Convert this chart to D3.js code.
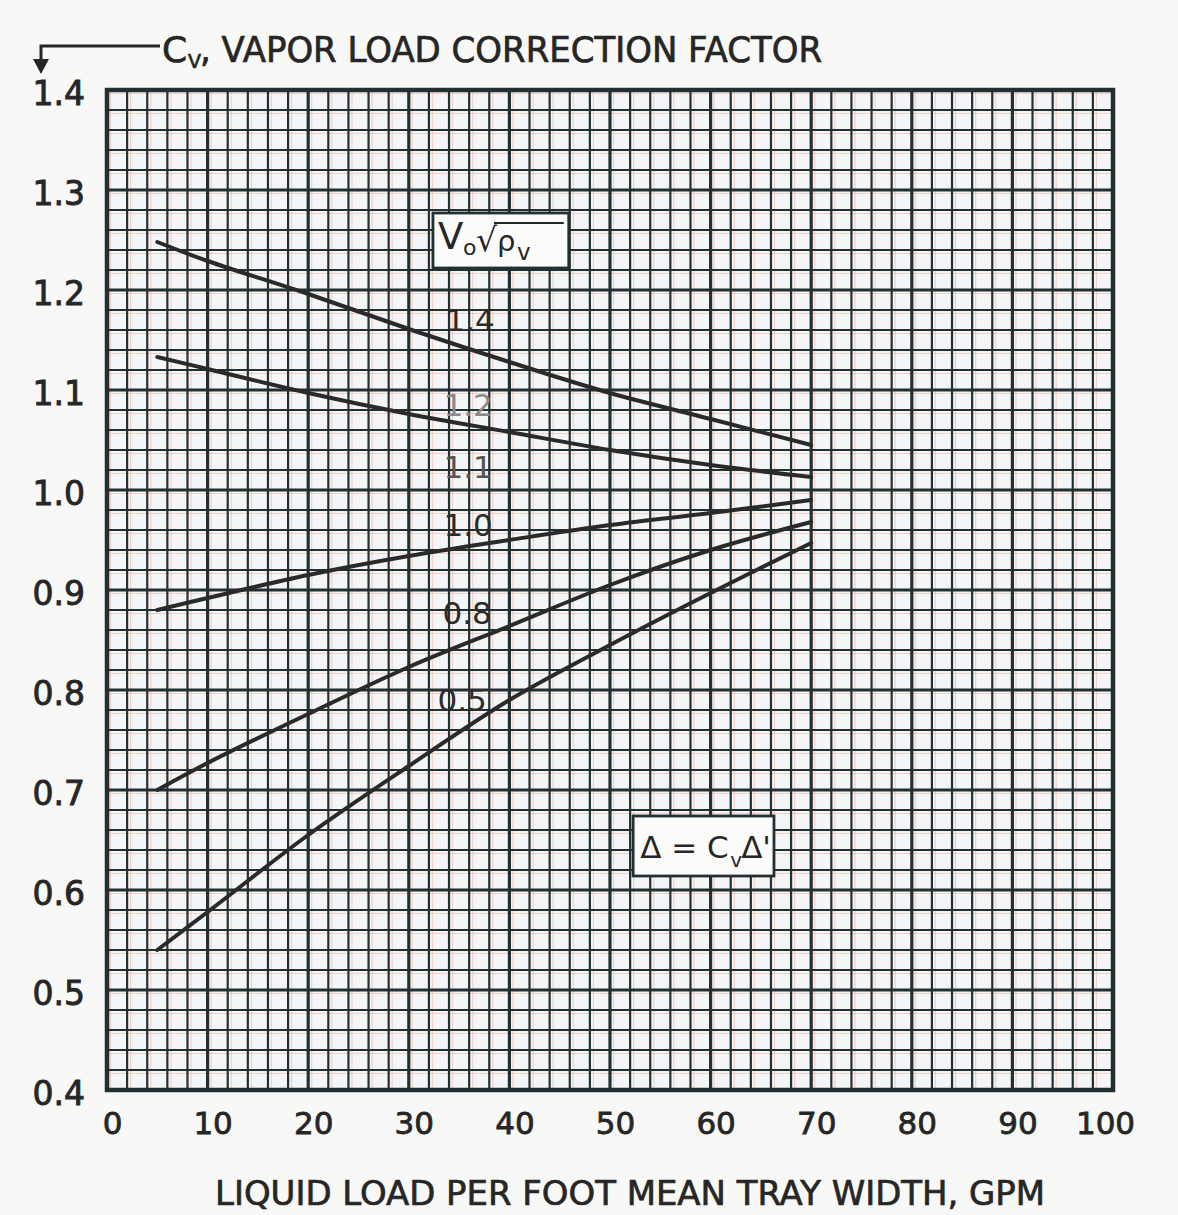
<!DOCTYPE html>
<html><head><meta charset="utf-8">
<script src="https://cdn.jsdelivr.net/npm/d3@7"></script>
<style>html,body{margin:0;padding:0;background:#f8f8f6;} svg{display:block;}</style>
</head><body>
<svg id="chart" width="1178" height="1215"></svg>
<script>
// ---- data ----
const gpm = [5, 10, 20, 30, 40, 50, 60, 70];
const cvSeries14 = [1.248, 1.229, 1.196, 1.161, 1.128, 1.097, 1.071, 1.045];
const cvSeries12 = [1.133, 1.121, 1.097, 1.076, 1.058, 1.040, 1.025, 1.013];
const cvSeries10 = [0.880, 0.892, 0.915, 0.934, 0.950, 0.965, 0.977, 0.990];
const cvSeries08 = [0.700, 0.727, 0.776, 0.823, 0.864, 0.905, 0.940, 0.968];
const cvSeries05 = [0.540, 0.578, 0.655, 0.724, 0.790, 0.845, 0.897, 0.947];
const xTickValues = [0, 10, 20, 30, 40, 50, 60, 70, 80, 90, 100];
const yTickValues = [0.4, 0.5, 0.6, 0.7, 0.8, 0.9, 1.0, 1.1, 1.2, 1.3, 1.4];
const curveLabelText = ["1.4", "1.2", "1.1", "1.0", "0.8", "0.5"];
const curveLabelX = [36.1, 35.9, 35.9, 35.9, 35.8, 35.3];
const curveLabelY = [1.170, 1.085, 1.023, 0.965, 0.877, 0.790];
const titleText = ", VAPOR LOAD CORRECTION FACTOR";
const xTitleText = "LIQUID LOAD PER FOOT MEAN TRAY WIDTH, GPM";

// ---- layout ----
const W = 1178, H = 1215;
const m = {left: 107, top: 90, right: 65, bottom: 125};
const svg = d3.select("#chart");
const x = d3.scaleLinear().domain([0, 100]).range([m.left, W - m.right]);
const y = d3.scaleLinear().domain([0.4, 1.4]).range([H - m.bottom, m.top]);
const ink = "#223033";
const txt = "#262626";
const font = "'DejaVu Sans', 'Liberation Sans', sans-serif";

svg.append("rect").attr("width", W).attr("height", H).attr("fill", "#f8f8f6");
svg.append("rect").attr("x", x(0)).attr("y", y(1.4)).attr("width", x(100) - x(0)).attr("height", y(0.4) - y(1.4)).attr("fill", "#f3f5f7");

// grid
const xGrid = d3.range(0, 100.001, 2);
const yGrid = d3.range(0, 51).map(i => +(0.4 + i * 0.02).toFixed(2));
const isMajX = v => Math.abs(v % 10) < 1e-6;
const isMajY = v => Math.round(v * 100) % 10 === 0;
const g = svg.append("g");
g.selectAll(".pv").data(xGrid.filter(v => v < 100)).join("line")
  .attr("x1", d => x(d) + 3.5).attr("x2", d => x(d) + 3.5).attr("y1", y(1.4)).attr("y2", y(0.4))
  .attr("stroke", "#f0b4a0").attr("stroke-width", 1.2).attr("opacity", 0.55);
g.selectAll(".ph").data(yGrid.filter(v => v > 0.4)).join("line")
  .attr("y1", d => y(d) + 3.5).attr("y2", d => y(d) + 3.5).attr("x1", x(0)).attr("x2", x(100))
  .attr("stroke", "#f0b4a0").attr("stroke-width", 1.2).attr("opacity", 0.55);
g.selectAll(".gv").data(xGrid).join("line")
  .attr("x1", d => x(d)).attr("x2", d => x(d)).attr("y1", y(1.4)).attr("y2", y(0.4))
  .attr("stroke", ink).attr("stroke-width", d => isMajX(d) ? 3.2 : 2.2);
g.selectAll(".gh").data(yGrid).join("line")
  .attr("y1", d => y(d)).attr("y2", d => y(d)).attr("x1", x(0)).attr("x2", x(100))
  .attr("stroke", ink).attr("stroke-width", d => isMajY(d) ? 3.2 : 2.2);
svg.append("rect").attr("x", x(0)).attr("y", y(1.4)).attr("width", x(100) - x(0)).attr("height", y(0.4) - y(1.4))
  .attr("fill", "none").attr("stroke", ink).attr("stroke-width", 4.5);

// axes
const yAxis = svg.append("g").attr("transform", `translate(${x(0)},0)`)
  .call(d3.axisLeft(y).tickValues(yTickValues).tickFormat(d3.format(".1f")).tickSize(0).tickPadding(22));
yAxis.select(".domain").remove();
yAxis.selectAll("text").attr("font-family", font).attr("font-size", 33).attr("fill", txt)
  .attr("stroke", txt).attr("stroke-width", 0.9).attr("dy", "0.45em");

const xAxis = svg.append("g").attr("transform", `translate(0,${y(0.4)})`)
  .call(d3.axisBottom(x).tickValues(xTickValues).tickFormat(d3.format("d")).tickSize(0).tickPadding(22));
xAxis.select(".domain").remove();
xAxis.selectAll("text").attr("font-family", font).attr("font-size", 31).attr("fill", txt)
  .attr("stroke", txt).attr("stroke-width", 0.8)
  .attr("dx", d => d === 100 ? -8 : 5);

// curves
const seriesList = [cvSeries14, cvSeries12, cvSeries10, cvSeries08, cvSeries05];
const line = d3.line().x((d, i) => x(gpm[i])).y(d => y(d)).curve(d3.curveCatmullRom.alpha(0.5));
svg.append("g").selectAll("path").data(seriesList).join("path")
  .attr("d", line).attr("fill", "none").attr("stroke", "#2a2a2a").attr("stroke-width", 4).attr("stroke-linecap", "round");

// curve labels
svg.append("g").selectAll("text").data(curveLabelText).join("text")
  .attr("x", (d, i) => x(curveLabelX[i])).attr("y", (d, i) => y(curveLabelY[i]))
  .attr("text-anchor", "middle").attr("dominant-baseline", "central")
  .attr("font-family", font).attr("font-size", 31)
  .attr("fill", (d, i) => i === 1 ? "#8a8a8a" : (i === 2 ? "#555" : "#2b2b2b"))
  .text(d => d);

// box: V0 sqrt(rho_v)
const b1 = {x0: x(32.4), x1: x(45.9), y0: y(1.277), y1: y(1.222)};
svg.append("rect").attr("x", b1.x0).attr("y", b1.y0).attr("width", b1.x1 - b1.x0).attr("height", b1.y1 - b1.y0)
  .attr("fill", "#fbfbfa").attr("stroke", ink).attr("stroke-width", 2.8);
const t1 = svg.append("g").attr("font-family", font).attr("fill", txt);
t1.append("text").attr("x", b1.x0 + 5).attr("y", b1.y0 + 36).attr("font-size", 37).text("V");
t1.append("text").attr("x", b1.x0 + 30).attr("y", b1.y0 + 42).attr("font-size", 22).text("o");
t1.append("text").attr("x", b1.x0 + 43).attr("y", b1.y0 + 38).attr("font-size", 33).text("√");
svg.append("line").attr("x1", b1.x0 + 61).attr("x2", b1.x1 - 5).attr("y1", b1.y0 + 10).attr("y2", b1.y0 + 10)
  .attr("stroke", txt).attr("stroke-width", 2);
t1.append("text").attr("x", b1.x0 + 64).attr("y", b1.y0 + 38).attr("font-size", 29).text("ρ");
t1.append("text").attr("x", b1.x0 + 84).attr("y", b1.y0 + 47).attr("font-size", 23).text("v");

// box: Δ = Cv Δ'
const b2 = {x0: x(52.3), x1: x(66.3), y0: y(0.674), y1: y(0.614)};
svg.append("rect").attr("x", b2.x0).attr("y", b2.y0).attr("width", b2.x1 - b2.x0).attr("height", b2.y1 - b2.y0)
  .attr("fill", "#fbfbfa").attr("stroke", ink).attr("stroke-width", 2.8);
const t2 = svg.append("g").attr("font-family", font).attr("fill", txt);
t2.append("text").attr("x", b2.x0 + 7).attr("y", b2.y0 + 42).attr("font-size", 31).text("Δ = C");
t2.append("text").attr("x", b2.x0 + 97).attr("y", b2.y0 + 51).attr("font-size", 20).text("v");
t2.append("text").attr("x", b2.x0 + 108).attr("y", b2.y0 + 42).attr("font-size", 31).text("Δ'");

// title with arrow
svg.append("path").attr("d", "M160,46 H41 V62").attr("fill", "none").attr("stroke", txt).attr("stroke-width", 3);
svg.append("path").attr("d", "M33,59 L49,59 L41,74 Z").attr("fill", txt);
const tt = svg.append("g").attr("font-family", font).attr("fill", txt).attr("stroke", txt).attr("stroke-width", 0.7);
tt.append("text").attr("x", 162).attr("y", 62).attr("font-size", 36).text("C");
tt.append("text").attr("x", 188).attr("y", 68).attr("font-size", 19).text("V");
tt.append("text").attr("x", 200).attr("y", 62).attr("font-size", 35)
  .attr("textLength", 622).attr("lengthAdjust", "spacingAndGlyphs").text(titleText);

// x title
svg.append("text").attr("x", 215).attr("y", 1205).attr("font-family", font).attr("font-size", 34)
  .attr("fill", txt).attr("stroke", txt).attr("stroke-width", 0.7)
  .attr("textLength", 830).attr("lengthAdjust", "spacingAndGlyphs").text(xTitleText);
</script>
</body></html>
